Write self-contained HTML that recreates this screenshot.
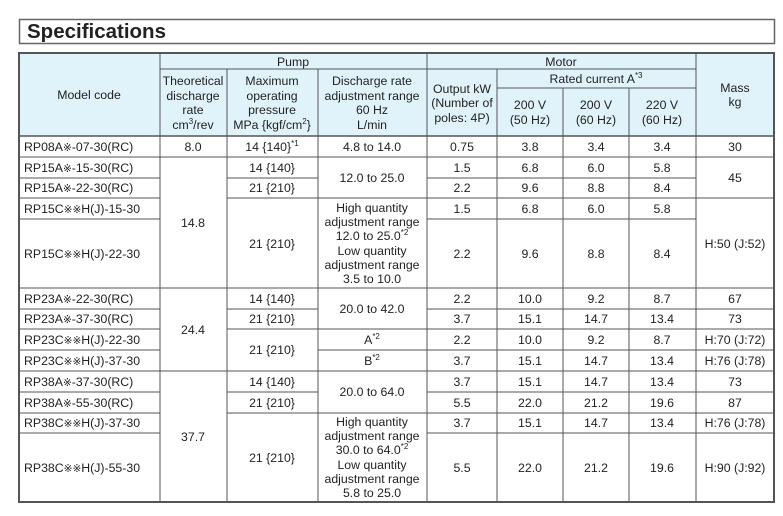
<!DOCTYPE html>
<html><head><meta charset="utf-8"><style>
body{margin:0;background:#fff;}
svg{display:block;font-family:"Liberation Sans","Noto Sans CJK JP",sans-serif;}
.k{font-family:"DejaVu Sans","Noto Sans CJK JP",sans-serif;font-size:10.5px;}
</style></head><body>
<svg width="783" height="516" viewBox="0 0 783 516" xmlns="http://www.w3.org/2000/svg">
<rect x="19.5" y="19.5" width="755" height="24" fill="#fff" stroke="#666" stroke-width="1.5"/>
<text x="27" y="38" font-size="20.5" font-weight="bold" fill="#222">Specifications</text>
<rect x="19" y="53" width="755" height="83" fill="#e1f3fa"/>
<g stroke="#555" stroke-width="1" fill="none">
<line x1="160" y1="69" x2="696" y2="69"/>
<line x1="497" y1="88" x2="696" y2="88"/>
<line x1="19" y1="136" x2="774" y2="136" stroke-width="1.5"/>
<line x1="160" y1="53" x2="160" y2="502"/>
<line x1="227" y1="69" x2="227" y2="502"/>
<line x1="318" y1="69" x2="318" y2="502"/>
<line x1="427" y1="53" x2="427" y2="502"/>
<line x1="497" y1="69" x2="497" y2="502"/>
<line x1="563" y1="88" x2="563" y2="502"/>
<line x1="629" y1="88" x2="629" y2="502"/>
<line x1="696" y1="53" x2="696" y2="502"/>
<path d="M19 157H160M19 178H160M19 198H160M19 219H160M19 288H160M19 309H160M19 329H160M19 350H160M19 371H160M19 392H160M19 413H160M19 433H160"/>
<path d="M160 157H227M160 288H227M160 371H227"/>
<path d="M227 157H318M227 178H318M227 198H318M227 288H318M227 309H318M227 329H318M227 371H318M227 392H318M227 413H318"/>
<path d="M318 157H427M318 198H427M318 288H427M318 329H427M318 350H427M318 371H427M318 413H427"/>
<path d="M427 157H696M427 178H696M427 198H696M427 219H696M427 288H696M427 309H696M427 329H696M427 350H696M427 371H696M427 392H696M427 413H696M427 433H696"/>
<path d="M696 157H774M696 198H774M696 288H774M696 309H774M696 329H774M696 350H774M696 371H774M696 392H774M696 413H774M696 433H774"/>
<rect x="19" y="53" width="755" height="449" stroke-width="2"/>
</g>
<g font-size="12.3" fill="#222" text-anchor="middle">
<text x="89" y="99">Model code</text>
<text x="293" y="66">Pump</text>
<text x="561" y="66">Motor</text>
<text x="735" y="92">Mass</text>
<text x="735" y="106">kg</text>
<text x="193" y="85">Theoretical</text>
<text x="193" y="100">discharge</text>
<text x="193" y="114">rate</text>
<text x="193" y="129">cm<tspan font-size="8" dy="-5">3</tspan><tspan dy="5">/rev</tspan></text>
<text x="272" y="85">Maximum</text>
<text x="272" y="100">operating</text>
<text x="272" y="114">pressure</text>
<text x="272" y="129">MPa {kgf/cm<tspan font-size="8" dy="-5">2</tspan><tspan dy="5">}</tspan></text>
<text x="372" y="85">Discharge rate</text>
<text x="372" y="100">adjustment range</text>
<text x="372" y="114">60 Hz</text>
<text x="372" y="129">L/min</text>
<text x="462" y="93">Output kW</text>
<text x="462" y="107">(Number of</text>
<text x="462" y="122">poles: 4P)</text>
<text x="596" y="83">Rated current A<tspan font-size="8" dy="-5">*3</tspan></text>
<text x="530" y="109">200 V</text><text x="530" y="124">(50 Hz)</text>
<text x="596" y="109">200 V</text><text x="596" y="124">(60 Hz)</text>
<text x="662" y="109">220 V</text><text x="662" y="124">(60 Hz)</text>
</g>
<g font-size="12.3" fill="#222">
<text x="24" y="151">RP08A<tspan class="k">※</tspan>-07-30(RC)</text>
<text x="24" y="172">RP15A<tspan class="k">※</tspan>-15-30(RC)</text>
<text x="24" y="192">RP15A<tspan class="k">※</tspan>-22-30(RC)</text>
<text x="24" y="213">RP15C<tspan class="k">※※</tspan>H(J)-15-30</text>
<text x="24" y="258">RP15C<tspan class="k">※※</tspan>H(J)-22-30</text>
<text x="24" y="303">RP23A<tspan class="k">※</tspan>-22-30(RC)</text>
<text x="24" y="323">RP23A<tspan class="k">※</tspan>-37-30(RC)</text>
<text x="24" y="344">RP23C<tspan class="k">※※</tspan>H(J)-22-30</text>
<text x="24" y="365">RP23C<tspan class="k">※※</tspan>H(J)-37-30</text>
<text x="24" y="386">RP38A<tspan class="k">※</tspan>-37-30(RC)</text>
<text x="24" y="407">RP38A<tspan class="k">※</tspan>-55-30(RC)</text>
<text x="24" y="427">RP38C<tspan class="k">※※</tspan>H(J)-37-30</text>
<text x="24" y="472">RP38C<tspan class="k">※※</tspan>H(J)-55-30</text>
</g>
<g font-size="12.3" fill="#222" text-anchor="middle">
<text x="193" y="151">8.0</text>
<text x="193" y="227">14.8</text>
<text x="193" y="334">24.4</text>
<text x="193" y="441">37.7</text>
<text x="272" y="151">14 {140}<tspan font-size="8" dy="-5">*1</tspan></text>
<text x="272" y="172">14 {140}</text>
<text x="272" y="192">21 {210}</text>
<text x="272" y="248">21 {210}</text>
<text x="272" y="303">14 {140}</text>
<text x="272" y="323">21 {210}</text>
<text x="272" y="354">21 {210}</text>
<text x="272" y="386">14 {140}</text>
<text x="272" y="407">21 {210}</text>
<text x="272" y="462">21 {210}</text>
<text x="372" y="151">4.8 to 14.0</text>
<text x="372" y="182">12.0 to 25.0</text>
<text x="372" y="212">High quantity</text>
<text x="372" y="226">adjustment range</text>
<text x="372" y="240">12.0 to 25.0<tspan font-size="8" dy="-5">*2</tspan></text>
<text x="372" y="255">Low quantity</text>
<text x="372" y="269">adjustment range</text>
<text x="372" y="283">3.5 to 10.0</text>
<text x="372" y="313">20.0 to 42.0</text>
<text x="372" y="344">A<tspan font-size="8" dy="-5">*2</tspan></text>
<text x="372" y="365">B<tspan font-size="8" dy="-5">*2</tspan></text>
<text x="372" y="396">20.0 to 64.0</text>
<text x="372" y="426">High quantity</text>
<text x="372" y="440">adjustment range</text>
<text x="372" y="454">30.0 to 64.0<tspan font-size="8" dy="-5">*2</tspan></text>
<text x="372" y="469">Low quantity</text>
<text x="372" y="483">adjustment range</text>
<text x="372" y="497">5.8 to 25.0</text>
</g>
<g font-size="12.3" fill="#222" text-anchor="middle">
<text x="462" y="151">0.75</text><text x="530" y="151">3.8</text><text x="596" y="151">3.4</text><text x="662" y="151">3.4</text><text x="735" y="151">30</text>
<text x="462" y="172">1.5</text><text x="530" y="172">6.8</text><text x="596" y="172">6.0</text><text x="662" y="172">5.8</text>
<text x="735" y="182">45</text>
<text x="462" y="192">2.2</text><text x="530" y="192">9.6</text><text x="596" y="192">8.8</text><text x="662" y="192">8.4</text>
<text x="462" y="213">1.5</text><text x="530" y="213">6.8</text><text x="596" y="213">6.0</text><text x="662" y="213">5.8</text>
<text x="735" y="248">H:50 (J:52)</text>
<text x="462" y="258">2.2</text><text x="530" y="258">9.6</text><text x="596" y="258">8.8</text><text x="662" y="258">8.4</text>
<text x="462" y="303">2.2</text><text x="530" y="303">10.0</text><text x="596" y="303">9.2</text><text x="662" y="303">8.7</text><text x="735" y="303">67</text>
<text x="462" y="323">3.7</text><text x="530" y="323">15.1</text><text x="596" y="323">14.7</text><text x="662" y="323">13.4</text><text x="735" y="323">73</text>
<text x="462" y="344">2.2</text><text x="530" y="344">10.0</text><text x="596" y="344">9.2</text><text x="662" y="344">8.7</text><text x="735" y="344">H:70 (J:72)</text>
<text x="462" y="365">3.7</text><text x="530" y="365">15.1</text><text x="596" y="365">14.7</text><text x="662" y="365">13.4</text><text x="735" y="365">H:76 (J:78)</text>
<text x="462" y="386">3.7</text><text x="530" y="386">15.1</text><text x="596" y="386">14.7</text><text x="662" y="386">13.4</text><text x="735" y="386">73</text>
<text x="462" y="407">5.5</text><text x="530" y="407">22.0</text><text x="596" y="407">21.2</text><text x="662" y="407">19.6</text><text x="735" y="407">87</text>
<text x="462" y="427">3.7</text><text x="530" y="427">15.1</text><text x="596" y="427">14.7</text><text x="662" y="427">13.4</text><text x="735" y="427">H:76 (J:78)</text>
<text x="462" y="472">5.5</text><text x="530" y="472">22.0</text><text x="596" y="472">21.2</text><text x="662" y="472">19.6</text><text x="735" y="472">H:90 (J:92)</text>
</g>
</svg>
</body></html>
